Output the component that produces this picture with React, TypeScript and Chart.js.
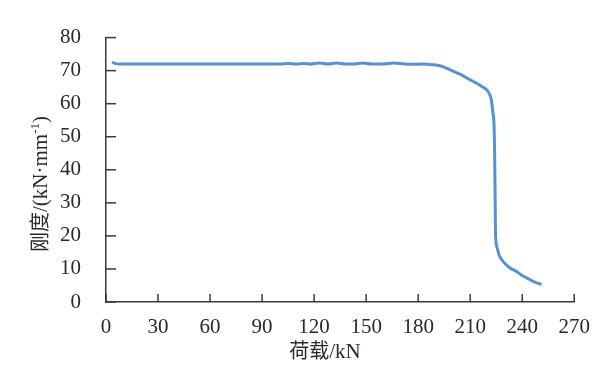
import React, { useEffect, useRef } from "react";
import { Chart, registerables } from "chart.js";

Chart.register(...registerables);

const loads: number[] = [
  3.5, 5, 8, 15, 30, 45, 60, 75, 90, 100, 105, 110, 114, 118, 123, 128, 133, 138, 143, 148,
  153, 160, 166, 172, 178, 183, 188, 193, 197, 201, 205, 209, 213, 216.5, 219.7, 221.2, 222.2,
  223.1, 223.7, 224.1, 224.3, 224.4, 224.6, 225.4, 226.6, 228.3, 230.5, 233, 236.5, 239.5,
  242.6, 246.5, 251.1,
];
const stiffness: number[] = [
  72.6, 72.2, 72.0, 72.0, 72.0, 72.0, 72.0, 72.0, 72.0, 72.0, 72.2, 72.0, 72.2, 72.0, 72.3,
  72.0, 72.3, 72.0, 72.0, 72.3, 72.0, 72.0, 72.3, 72.0, 71.9, 72.0, 71.8, 71.4, 70.6, 69.6,
  68.7, 67.5, 66.4, 65.3, 64.1, 62.8, 61.1, 57.2, 54.2, 45, 35, 30.5, 20.6, 16.7, 14.3, 12.7,
  11.4, 10.3, 9.3, 8.2, 7.3, 6.2, 5.3,
];
const xTicks: number[] = [0, 30, 60, 90, 120, 150, 180, 210, 240, 270];
const yTicks: number[] = [0, 10, 20, 30, 40, 50, 60, 70, 80];

const xTitleCjk = "荷载";
const xTitleLatin = "/kN";
const yTitleCjk = "刚度";
const yTitleLatin = "/(kN·mm";
const yTitleSup = "-1";
const yTitleEnd = ")";

const SERIF = '"Liberation Serif", "Times New Roman", serif';
const CJK = '"Noto Sans CJK SC", sans-serif';
const AXIS_COLOR = "#3a3a3a";
const TEXT_COLOR = "#2a2a2a";

const decorPlugin = {
  id: "decor",
  afterDraw(chart: any) {
    const ctx = chart.ctx as CanvasRenderingContext2D;
    const xs = chart.scales.x;
    const ys = chart.scales.y;
    const area = chart.chartArea;
    ctx.save();
    ctx.strokeStyle = AXIS_COLOR;
    ctx.lineWidth = 1.5;
    for (const v of xTicks) {
      const px = xs.getPixelForValue(v);
      ctx.beginPath();
      ctx.moveTo(px, area.bottom);
      ctx.lineTo(px, area.bottom - 8);
      ctx.stroke();
    }
    for (const v of yTicks) {
      const py = ys.getPixelForValue(v);
      ctx.beginPath();
      ctx.moveTo(area.left, py);
      ctx.lineTo(area.left + 10, py);
      ctx.stroke();
    }
    ctx.fillStyle = TEXT_COLOR;
    ctx.textBaseline = "alphabetic";
    ctx.textAlign = "left";
    const cjkFont = `20px ${CJK}`;
    const serifFont = `21px ${SERIF}`;
    const supFont = `13px ${SERIF}`;
    ctx.font = cjkFont;
    const w1 = ctx.measureText(xTitleCjk).width;
    ctx.font = serifFont;
    const w2 = ctx.measureText(xTitleLatin).width;
    const xCenter = 325;
    const xBase = 358;
    const sx = xCenter - (w1 + w2) / 2;
    ctx.font = cjkFont;
    ctx.fillText(xTitleCjk, sx, xBase);
    ctx.font = serifFont;
    ctx.fillText(xTitleLatin, sx + w1, xBase);

    ctx.font = cjkFont;
    const a = ctx.measureText(yTitleCjk).width;
    ctx.font = serifFont;
    const b = ctx.measureText(yTitleLatin).width;
    const d = ctx.measureText(yTitleEnd).width;
    ctx.font = supFont;
    const c = ctx.measureText(yTitleSup).width;
    const total = a + b + c + d;
    ctx.translate(47, 184);
    ctx.rotate(-Math.PI / 2);
    let lx = -total / 2;
    ctx.font = cjkFont;
    ctx.fillText(yTitleCjk, lx, 0);
    lx += a;
    ctx.font = serifFont;
    ctx.fillText(yTitleLatin, lx, 0);
    lx += b;
    ctx.font = supFont;
    ctx.fillText(yTitleSup, lx, -8);
    lx += c;
    ctx.font = serifFont;
    ctx.fillText(yTitleEnd, lx, 0);
    ctx.restore();
  },
};

export default function App() {
  const ref = useRef<HTMLCanvasElement | null>(null);
  useEffect(() => {
    if (!ref.current) return;
    const chart = new Chart(ref.current, {
      type: "line",
      data: {
        datasets: [
          {
            data: loads.map((x, i) => ({ x, y: stiffness[i] })),
            borderColor: "#5592cf",
            borderWidth: 3,
            pointRadius: 0,
            cubicInterpolationMode: "monotone",
            fill: false,
          },
        ],
      },
      options: {
        animation: false,
        responsive: true,
        maintainAspectRatio: false,
        layout: { padding: { left: 0, right: 26, top: 33, bottom: 0 } },
        plugins: { legend: { display: false }, tooltip: { enabled: false } },
        scales: {
          x: {
            type: "linear",
            min: 0,
            max: 270,
            afterBuildTicks: (s: any) => {
              s.ticks = xTicks.map((v) => ({ value: v }));
            },
            afterFit: (s: any) => {
              s.height = 80;
            },
            grid: { display: false, drawTicks: false },
            border: { display: true, color: AXIS_COLOR, width: 1.5 },
            ticks: {
              padding: 13,
              maxRotation: 0,
              autoSkip: false,
              color: TEXT_COLOR,
              font: { family: SERIF, size: 21 },
            },
          },
          y: {
            type: "linear",
            min: 0,
            max: 80,
            afterBuildTicks: (s: any) => {
              s.ticks = yTicks.map((v) => ({ value: v }));
            },
            afterFit: (s: any) => {
              s.width = 106;
            },
            grid: { display: false, drawTicks: false },
            border: { display: true, color: AXIS_COLOR, width: 1.5 },
            ticks: {
              padding: 25,
              autoSkip: false,
              color: TEXT_COLOR,
              font: { family: SERIF, size: 21 },
            },
          },
        },
      },
      plugins: [decorPlugin],
    } as any);
    return () => chart.destroy();
  }, []);
  return (
    <div style={{ position: "fixed", left: 0, top: 0, width: 603, height: 382, background: "#fff" }}>
      <canvas ref={ref} />
    </div>
  );
}
